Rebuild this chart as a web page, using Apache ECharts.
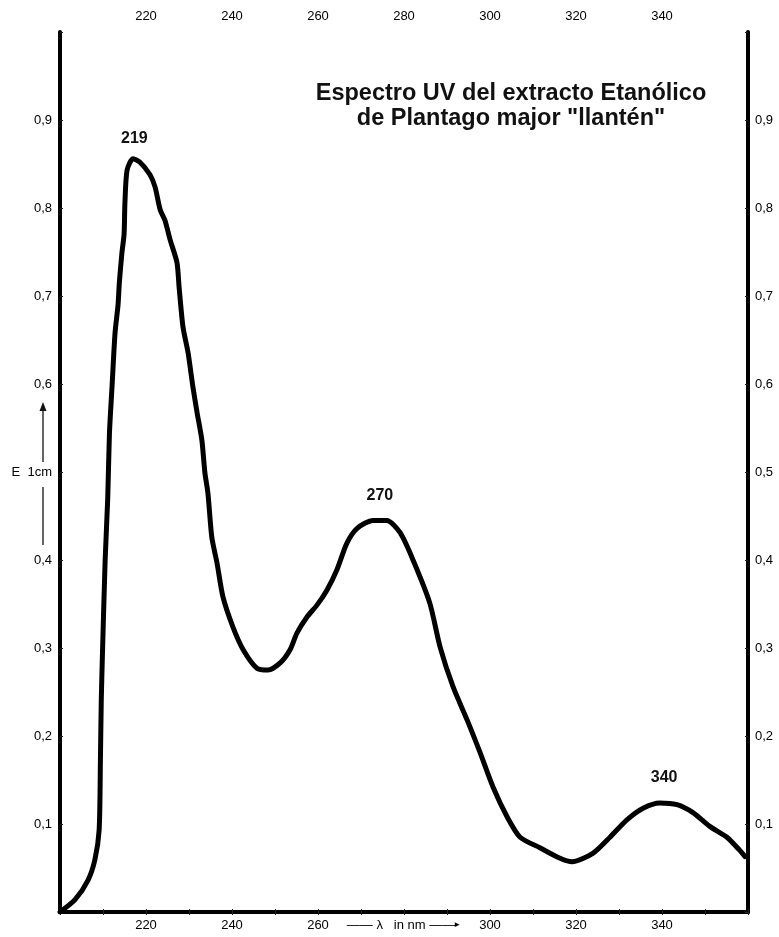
<!DOCTYPE html>
<html>
<head>
<meta charset="utf-8">
<script src="https://cdn.jsdelivr.net/npm/echarts@6/dist/echarts.min.js"></script>
<style>
html,body{margin:0;padding:0;background:#fff;}
#chart{width:779px;height:937px;}
</style>
</head>
<body>
<div id="chart"></div>
<script>
// Wavelength (nm) and absorbance readings of the UV spectrum
var lambda = [200, 203.5, 206.5, 208.1, 209.1, 209.4, 209.6, 209.9, 210.5, 211.1, 211.5, 212.1, 212.8, 213.5, 213.8, 214.4, 214.9, 215.1, 215.6, 217.0, 218.6, 220.9, 222.1, 223.3, 224.4, 225.6, 227.2, 227.7, 228.6, 229.8, 230.9, 231.9, 233.0, 233.7, 234.4, 235.3, 236.5, 237.9, 240.2, 242.6, 245.8, 248.4, 251.2, 253.5, 255.1, 257.4, 259.8, 262.1, 264.4, 266.7, 269.1, 272.8, 276.0, 279.1, 282.1, 286.0, 288.4, 291.4, 294.7, 297.7, 300.7, 304.0, 307.0, 311.6, 316.3, 319.1, 324.0, 327.9, 331.9, 335.6, 339.5, 343.5, 347.2, 351.2, 355.1, 358.1, 359.3];
var absorbance = [0, 0.014, 0.036, 0.059, 0.093, 0.173, 0.241, 0.298, 0.40, 0.47, 0.544, 0.597, 0.658, 0.690, 0.715, 0.749, 0.770, 0.806, 0.843, 0.856, 0.852, 0.838, 0.824, 0.798, 0.786, 0.764, 0.738, 0.710, 0.665, 0.635, 0.597, 0.567, 0.536, 0.499, 0.476, 0.426, 0.397, 0.358, 0.324, 0.298, 0.277, 0.275, 0.283, 0.298, 0.317, 0.335, 0.349, 0.366, 0.389, 0.419, 0.436, 0.445, 0.445, 0.431, 0.400, 0.351, 0.301, 0.256, 0.218, 0.181, 0.142, 0.108, 0.085, 0.073, 0.061, 0.057, 0.067, 0.085, 0.105, 0.118, 0.124, 0.122, 0.113, 0.097, 0.085, 0.070, 0.063];

// Peak annotations
var peakNames = ["219", "270", "340"];
var peakLambda = [217.3, 274.4, 340.5];
var peakAbs = [0.856, 0.445, 0.124];

// Axis tick labels
var xTickLabels = [220, 240, 260, 280, 300, 320, 340];
var yTickLabels = ["0,1", "0,2", "0,3", "0,4", "0,5", "0,6", "0,7", "0,8", "0,9"];

var titleLines = ["Espectro UV del extracto Etanólico", "de Plantago major \"llantén\""];
var xAxisCaption = "—— λ   in nm ——{h|►}";
var yAxisCaption = "E  1cm";

var FONT = "Liberation Sans, Arial, sans-serif";

function yLabel(v, side) {
  var k = Math.round(v * 10);
  if (k < 1 || k > 9) return "";
  if (side === "left" && k === 5) return yAxisCaption;
  return yTickLabels[k - 1];
}
function xLabel(v, bottom) {
  var r = Math.round(v);
  if (xTickLabels.indexOf(r) < 0) return "";
  if (bottom && r === 280) return xAxisCaption;
  return String(r);
}

var pts = lambda.map(function (x, i) { return [x, absorbance[i]]; });
var peakOffsets = [[0, -20], [0, -25], [0, -25]];
var markData = peakNames.map(function (n, i) {
  return {
    coord: [peakLambda[i], peakAbs[i]],
    value: n,
    label: { offset: peakOffsets[i] }
  };
});

var axisLineStyle = { color: "#000", width: 4 };
var tickStyle = { show: true, inside: true, length: 3, lineStyle: { color: "#222", width: 1 } };
var labelBase = { color: "#000", fontSize: 13, fontFamily: FONT };

var chart = echarts.init(document.getElementById("chart"), null, { renderer: "canvas" });
chart.setOption({
  animation: false,
  backgroundColor: "#fff",
  grid: { left: 60, right: 31, top: 32, bottom: 25, containLabel: false },
  xAxis: [
    {
      type: "value", position: "bottom", min: 200, max: 360, interval: 10,
      axisLine: { show: true, lineStyle: axisLineStyle },
      axisTick: tickStyle,
      splitLine: { show: false },
      axisLabel: Object.assign({}, labelBase, {
        margin: 7,
        formatter: function (v) { return xLabel(v, true); },
        rich: { h: { fontSize: 8, color: "#000", fontFamily: FONT, padding: [0, 0, 1, -2] } }
      })
    },
    {
      type: "value", position: "top", min: 200, max: 360, interval: 10,
      axisLine: { show: true, lineStyle: axisLineStyle },
      axisTick: tickStyle,
      splitLine: { show: false },
      axisLabel: Object.assign({}, labelBase, { margin: 9, formatter: function (v) { return xLabel(v, false); } })
    }
  ],
  yAxis: [
    {
      type: "value", position: "left", min: 0, max: 1, interval: 0.1,
      axisLine: { show: true, lineStyle: axisLineStyle },
      axisTick: tickStyle,
      splitLine: { show: false },
      axisLabel: Object.assign({}, labelBase, { margin: 8, formatter: function (v) { return yLabel(v, "left"); } })
    },
    {
      type: "value", position: "right", min: 0, max: 1, interval: 0.1,
      axisLine: { show: true, lineStyle: axisLineStyle },
      axisTick: tickStyle,
      splitLine: { show: false },
      axisLabel: Object.assign({}, labelBase, { margin: 7, formatter: function (v) { return yLabel(v, "right"); } })
    }
  ],
  series: [
    {
      type: "line",
      xAxisIndex: 0, yAxisIndex: 0,
      data: pts,
      showSymbol: false,
      smooth: 0.25,
      lineStyle: { color: "#000", width: 5, join: "round", cap: "round" },
      markPoint: {
        symbol: "circle",
        symbolSize: 1,
        itemStyle: { color: "rgba(0,0,0,0)" },
        label: {
          show: true, position: "inside", color: "#111",
          fontSize: 16, fontWeight: "bold", fontFamily: FONT,
          formatter: function (p) { return p.data.value; }
        },
        data: markData
      }
    }
  ],
  graphic: [
    {
      type: "text", x: 511, y: 81,
      style: {
        text: titleLines.join("\n"),
        align: "center", verticalAlign: "top",
        font: "bold 23.5px " + FONT, lineHeight: 25, fill: "#111"
      }
    },
    { type: "line", shape: { x1: 43, y1: 462, x2: 43, y2: 409 }, style: { stroke: "#111", lineWidth: 1.3 } },
    { type: "polygon", shape: { points: [[43, 402], [39.5, 411], [46.5, 411]] }, style: { fill: "#111" } },
    { type: "line", shape: { x1: 43, y1: 487, x2: 43, y2: 545 }, style: { stroke: "#111", lineWidth: 1.3 } }
  ]
});
</script>
</body>
</html>
